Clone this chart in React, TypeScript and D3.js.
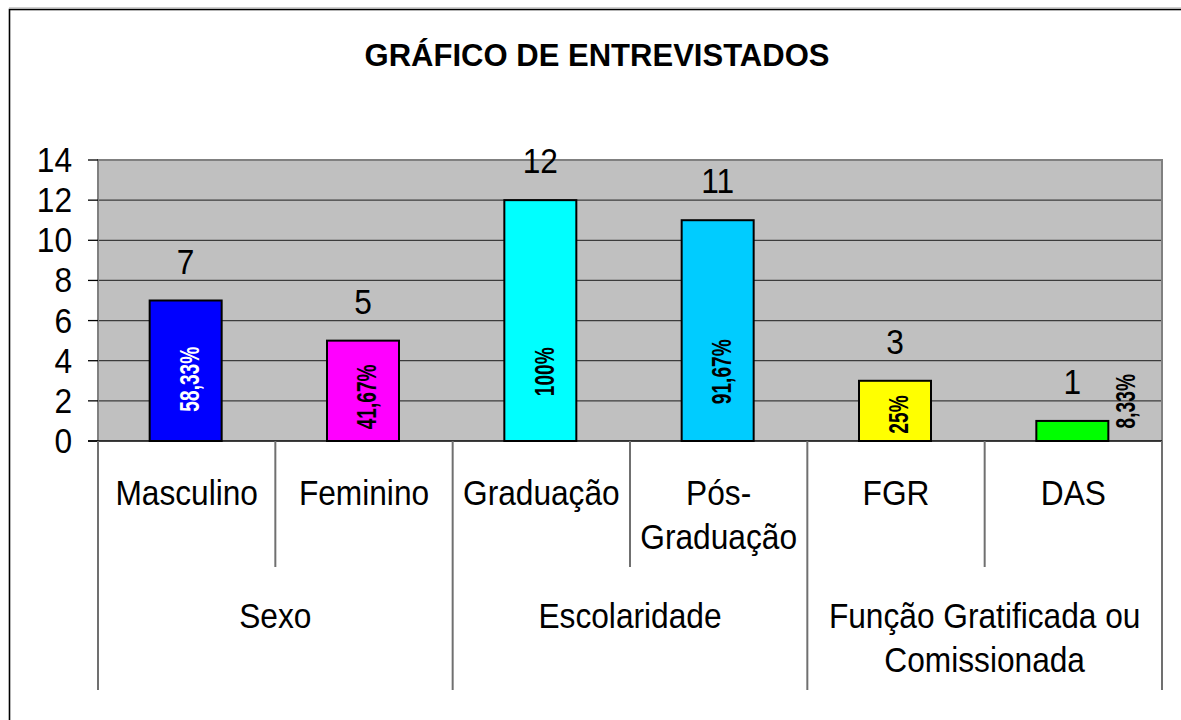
import React from "react";
import * as d3 from "d3";

const title = "GRÁFICO DE ENTREVISTADOS";
const categories = ["Masculino", "Feminino", "Graduação", "Pós-Graduação", "FGR", "DAS"];
const categoryLabelLines = [["Masculino"], ["Feminino"], ["Graduação"], ["Pós-", "Graduação"], ["FGR"], ["DAS"]];
const values = [7, 5, 12, 11, 3, 1];
const percentLabels = ["58,33%", "41,67%", "100%", "91,67%", "25%", "8,33%"];
const barColors = ["#0000FF", "#FF00FF", "#00FFFF", "#00CCFF", "#FFFF00", "#00FF00"];
const percentColors = ["#FFFFFF", "#000000", "#000000", "#000000", "#000000", "#000000"];
const groupLabelLines = [["Sexo"], ["Escolaridade"], ["Função Gratificada ou", "Comissionada"]];
const groupSizes = [2, 2, 2];
const yTicks = [0, 2, 4, 6, 8, 10, 12, 14];

const W = 1181;
const H = 720;
const PL = 98, PR = 1162, PT = 160, PB = 441;
const FONT = "'Liberation Sans', Arial, Helvetica, sans-serif";
const FS = 36;
const SX = 0.88;
const PFS = 27;
const PSX = 0.71;

function ST({ x, y, children, anchor = "middle", size = FS, sx = SX, weight = "normal", fill = "#000" }: any) {
  return (
    <text
      transform={`translate(${x},${y}) scale(${sx},1)`}
      textAnchor={anchor}
      fontFamily={FONT}
      fontSize={size}
      fontWeight={weight}
      fill={fill}
    >
      {children}
    </text>
  );
}

export default function App() {
  const x = d3.scaleBand<string>().domain(categories).range([PL, PR]).paddingInner(0).paddingOuter(0);
  const y = d3.scaleLinear().domain([0, 14]).range([PB, PT]);
  const step = x.step();
  const barW = step * 0.406;

  // group boundaries
  const groupBounds: number[] = [0];
  groupSizes.forEach((s) => groupBounds.push(groupBounds[groupBounds.length - 1] + s));
  const boundaryX = (i: number) => PL + i * step;

  return (
    <div style={{ position: "absolute", left: 0, top: 0 }}>
      <svg width={W} height={H} style={{ display: "block", background: "#fff" }}>
        {/* outer frame */}
        <line x1={9} x2={W} y1={7.5} y2={7.5} stroke="#d0d0d0" strokeWidth={1} />
        <rect x={9.5} y={9.5} width={W + 20} height={H + 20} fill="#fff" stroke="#000" strokeWidth={1.6} />

        {/* title */}
        <ST x={597} y={66} size={32} sx={0.97} weight="bold">{title}</ST>

        {/* plot area */}
        <rect x={PL} y={PT} width={PR - PL} height={PB - PT} fill="#C0C0C0" />
        {yTicks.filter((t) => t > 0 && t < 14).map((t) => (
          <line key={t} x1={PL} x2={PR} y1={y(t)} y2={y(t)} stroke="#3c3c3c" strokeWidth={1.2} />
        ))}
        <path d={`M${PL},${PB} V${PT} H${PR} V${PB}`} fill="none" stroke="#808080" strokeWidth={2} />

        {/* bars */}
        {categories.map((c, i) => {
          const cx = (x(c) as number) + step / 2 - 1;
          const v = values[i];
          const top = y(v);
          const bh = PB - top;
          const pctLen = percentLabels[i].length * 0.6 * PFS * PSX;
          const inside = pctLen < bh;
          const pcx = inside ? cx : cx + barW / 2 + 13;
          const pcy = inside ? y(Math.min(v * 0.44, 3.45)) : PB - 11 - pctLen / 2;
          return (
            <g key={c}>
              <rect x={cx - barW / 2} y={top} width={barW} height={bh} fill={barColors[i]} stroke="#000" strokeWidth={2} />
              <ST x={cx} y={top - 27}>{String(v)}</ST>
              <text
                transform={`translate(${pcx},${pcy}) rotate(-90) scale(${PSX},1)`}
                y={4}
                textAnchor="middle"
                dominantBaseline="central"
                fontFamily={FONT}
                fontSize={PFS}
                fontWeight="bold"
                fill={percentColors[i]}
              >
                {percentLabels[i]}
              </text>
            </g>
          );
        })}

        {/* y axis ticks & labels */}
        {yTicks.map((t) => (
          <g key={t}>
            <line x1={88} x2={PL} y1={y(t)} y2={y(t)} stroke="#000" strokeWidth={1.3} />
            <ST x={72} y={y(t) + 12} anchor="end">{String(t)}</ST>
          </g>
        ))}
        <line x1={88} x2={PR} y1={PB} y2={PB} stroke="#000" strokeWidth={1.5} />

        {/* category separators */}
        {d3.range(0, categories.length + 1).map((i) => {
          const isGroup = groupBounds.includes(i);
          return (
            <line
              key={i}
              x1={boundaryX(i)}
              x2={boundaryX(i)}
              y1={PB}
              y2={isGroup ? 690 : 567}
              stroke="#707070"
              strokeWidth={2}
            />
          );
        })}

        {/* category labels */}
        {categories.map((c, i) => {
          const cx = (x(c) as number) + step / 2;
          return categoryLabelLines[i].map((ln, k) => (
            <ST key={c + k} x={cx} y={505 + k * 44}>{ln}</ST>
          ));
        })}

        {/* group labels */}
        {groupLabelLines.map((lines, g) => {
          const cx = (boundaryX(groupBounds[g]) + boundaryX(groupBounds[g + 1])) / 2;
          return lines.map((ln, k) => (
            <ST key={g + "-" + k} x={cx} y={628 + k * 44}>{ln}</ST>
          ));
        })}
      </svg>
    </div>
  );
}
